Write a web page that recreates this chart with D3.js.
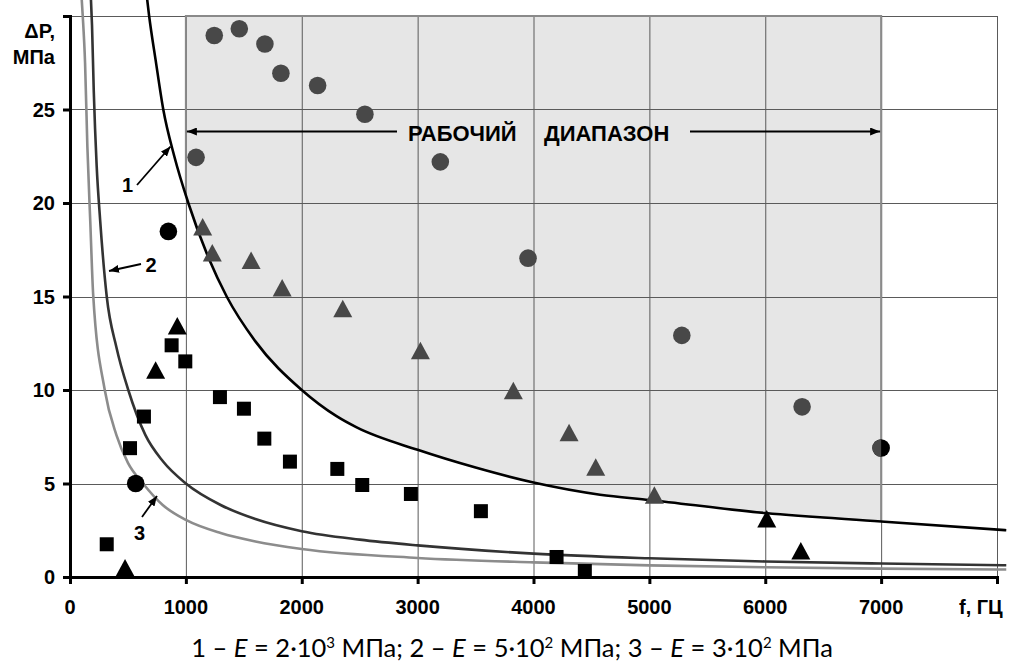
<!DOCTYPE html>
<html>
<head>
<meta charset="utf-8">
<script src="https://cdn.jsdelivr.net/npm/d3@7"></script>
<style>
  body { margin: 0; background: #fff; }
  svg { display: block; }
  .lbl { font-family: "Liberation Sans", Arial, sans-serif; font-weight: bold; font-size: 20px; fill: #000; }
  .cap { font-family: Lato, "Open Sans", sans-serif; fill: #000; }
</style>
</head>
<body>
<svg id="chart" width="1021" height="664"></svg>
<script>
// ---- data ----
const xTicks = [0, 1000, 2000, 3000, 4000, 5000, 6000, 7000];
const yTicks = [0, 5, 10, 15, 20, 25];

// curve 1 (E = 2e3)
const c1F  = [660, 682, 740, 805, 900, 1021, 1200, 1352, 1600, 2000, 2300, 2474, 3000, 3500, 4000, 4574, 5000, 6000, 7000, 8080];
const c1DP = [31.2, 30.05, 27.6, 25, 22.5, 20, 17.0, 15, 12.6, 10.0, 8.6, 8.0, 6.8, 5.85, 5.05, 4.4, 4.12, 3.42, 2.97, 2.5];
// curve 2 (E = 5e2)
const c2F  = [180, 190, 205, 230, 260, 317, 400, 503, 650, 800, 1000, 1300, 1600, 2000, 2500, 3000, 4000, 5000, 6000, 7000, 8080];
const c2DP = [31, 29.5, 26, 22, 19.1, 15, 12.3, 10, 7.6, 6.2, 5.0, 3.85, 3.1, 2.45, 2.0, 1.69, 1.25, 1.0, 0.83, 0.72, 0.63];
// curve 3 (E = 3e2)
const c3F  = [100, 110, 130, 150, 175, 200, 300, 400, 500, 630, 800, 1000, 1300, 1600, 2000, 3000, 4000, 5000, 6000, 7000, 8080];
const c3DP = [31, 30, 27.5, 23, 19, 15.1, 10.0, 7.6, 6.1, 5.0, 3.85, 3.05, 2.35, 1.9, 1.5, 1.02, 0.78, 0.62, 0.52, 0.45, 0.4];

// working range (shaded), lower edge
const rangeF  = [1000, 1021, 1200, 1352, 1600, 2000, 2300, 2474, 3000, 3500, 4000, 4574, 5000, 6000, 7000];
const rangeDP = [20.4, 20, 17.0, 15, 12.6, 10.0, 8.6, 8.0, 6.8, 5.85, 5.05, 4.4, 4.12, 3.42, 2.97];
const rangeTop = 30;

// markers
const sqF  = [317, 518, 638, 877, 995, 1294, 1501, 1677, 1898, 2307, 2522, 2942, 3546, 4199, 4443];
const sqDP = [1.75, 6.89, 8.58, 12.39, 11.53, 9.62, 9.0, 7.40, 6.17, 5.78, 4.92, 4.44, 3.52, 1.07, 0.32];

const triF  = [475, 739, 926, 6013, 6307];
const triDP = [0.48, 11.05, 13.42, 3.1, 1.39];

const gTriF  = [1145, 1228, 1563, 1831, 2354, 3024, 3826, 4307, 4537, 5043];
const gTriDP = [18.71, 17.33, 16.93, 15.46, 14.34, 12.1, 9.96, 7.71, 5.87, 4.37];

const gCirF  = [1088, 1245, 1461, 1682, 1820, 2137, 2545, 3196, 3953, 5280, 6318];
const gCirDP = [22.44, 28.96, 29.32, 28.5, 26.94, 26.28, 24.75, 22.2, 17.05, 12.92, 9.1];

const cirF  = [849, 567, 7000];
const cirDP = [18.48, 5.0, 6.9];

// ---- drawing ----
const svg = d3.select("#chart");
const x = d3.scaleLinear().domain([0, 8000]).range([70, 997]);
const y = d3.scaleLinear().domain([0, 30]).range([577, 16]);
const zip = (a, b) => a.map((v, i) => [v, b[i]]);
const GREY = "#484848";

svg.append("rect").attr("width", 1021).attr("height", 664).attr("fill", "#fff");

// shaded working range
const area = d3.area().x(d => x(d[0])).y0(d => y(d[1])).y1(y(rangeTop)).curve(d3.curveMonotoneX);
svg.append("path").datum(zip(rangeF, rangeDP))
  .attr("d", area).attr("fill", "#e6e6e6");

// grid
const grid = svg.append("g").attr("stroke", "#5a5a5a").attr("stroke-width", 1);
grid.selectAll(".gx").data(d3.range(1000, 8001, 1000)).join("line")
  .attr("x1", d => x(d) + 0.5).attr("x2", d => x(d) + 0.5)
  .attr("y1", y(30)).attr("y2", y(0));
grid.selectAll(".gy").data(d3.range(5, 31, 5)).join("line")
  .attr("y1", d => Math.round(y(d)) + 0.5).attr("y2", d => Math.round(y(d)) + 0.5)
  .attr("x1", x(0)).attr("x2", x(8000));

// range outline
svg.append("path")
  .attr("d", d3.line().x(d => x(d[0])).y(d => y(d[1])).curve(d3.curveMonotoneX)(zip(rangeF, rangeDP)))
  .attr("fill", "none").attr("stroke", "#555").attr("stroke-width", 1);
svg.append("path")
  .attr("d", d3.line().x(d => x(d[0])).y(d => y(d[1]))([[rangeF[0], rangeDP[0]], [rangeF[0], rangeTop], [7000, rangeTop], [7000, rangeDP[rangeDP.length - 1]]]))
  .attr("fill", "none").attr("stroke", "#8a8a8a").attr("stroke-width", 2);

// curves
const line = d3.line().x(d => x(d[0])).y(d => y(d[1])).curve(d3.curveMonotoneX);
[[c3F, c3DP, "#8c8c8c"], [c2F, c2DP, "#333"], [c1F, c1DP, "#000"]].forEach(([f, p, col]) => {
  svg.append("path").datum(zip(f, p)).attr("d", line)
    .attr("fill", "none").attr("stroke", col).attr("stroke-width", 2.6);
});

// markers
const mk = svg.append("g");
mk.selectAll(".sq").data(zip(sqF, sqDP)).join("rect")
  .attr("x", d => x(d[0]) - 7).attr("y", d => y(d[1]) - 7)
  .attr("width", 14).attr("height", 14).attr("fill", "#000");

function triangles(data, col) {
  mk.selectAll(null).data(data).join("path")
    .attr("d", "M0,-9L9.5,8.5L-9.5,8.5Z")
    .attr("transform", d => `translate(${x(d[0])},${y(d[1])})`)
    .attr("fill", col);
}
triangles(zip(triF, triDP), "#000");
triangles(zip(gTriF, gTriDP), GREY);

mk.selectAll(".gc").data(zip(gCirF, gCirDP)).join("circle")
  .attr("cx", d => x(d[0])).attr("cy", d => y(d[1])).attr("r", 8.8).attr("fill", GREY);
mk.selectAll(".bc").data(zip(cirF, cirDP)).join("circle")
  .attr("cx", d => x(d[0])).attr("cy", d => y(d[1])).attr("r", 8.8).attr("fill", "#000");
// the circle sitting on the range edge is greyed on its left half
svg.append("clipPath").attr("id", "inrange").append("rect")
  .attr("x", x(1000)).attr("y", y(30)).attr("width", x(7000) - x(1000)).attr("height", y(0) - y(30));
mk.selectAll(".bcg").data(zip(cirF, cirDP).filter(d => d[0] >= 1000)).join("circle")
  .attr("clip-path", "url(#inrange)")
  .attr("cx", d => x(d[0])).attr("cy", d => y(d[1])).attr("r", 8.8).attr("fill", GREY);

// axes
const xAxis = svg.append("g").attr("transform", `translate(0,${y(0)})`)
  .call(d3.axisBottom(x).tickValues(d3.range(0, 8001, 1000)).tickSize(7).tickFormat(""));
const yAxis = svg.append("g").attr("transform", `translate(${x(0)},0)`)
  .call(d3.axisLeft(y).tickValues(d3.range(0, 31, 5)).tickSize(7).tickFormat(""));
[xAxis, yAxis].forEach(a => {
  a.select(".domain").attr("stroke", "#000").attr("stroke-width", 3);
  a.selectAll(".tick line").attr("stroke", "#000").attr("stroke-width", 3);
});

svg.selectAll(".xl").data(xTicks).join("text").attr("class", "lbl")
  .attr("x", d => x(d)).attr("y", 614).attr("text-anchor", "middle").text(d => d);
svg.selectAll(".yl").data(yTicks).join("text").attr("class", "lbl")
  .attr("x", 55).attr("y", d => y(d)).attr("dy", "0.36em").attr("text-anchor", "end").text(d => d);

svg.append("text").attr("class", "lbl").attr("x", 55).attr("y", 38).attr("text-anchor", "end").text("ΔP,");
svg.append("text").attr("class", "lbl").attr("x", 55).attr("y", 64).attr("text-anchor", "end").text("МПа");
svg.append("text").attr("class", "lbl").attr("x", 959).attr("y", 614).text("f, ГЦ");

// arrows
const defs = svg.append("defs");
defs.append("marker").attr("id", "ah").attr("viewBox", "0 0 10 8")
  .attr("refX", 10).attr("refY", 4).attr("markerWidth", 10).attr("markerHeight", 8)
  .attr("markerUnits", "userSpaceOnUse").attr("orient", "auto")
  .append("path").attr("d", "M0,0L10,4L0,8Z").attr("fill", "#000");
function arrow(x1, y1, x2, y2, w) {
  svg.append("line").attr("x1", x1).attr("y1", y1).attr("x2", x2).attr("y2", y2)
    .attr("stroke", "#000").attr("stroke-width", w).attr("marker-end", "url(#ah)");
}
arrow(397, 131.5, x(1000) + 1, 131.5, 2.2);
arrow(690, 131.5, x(7000) - 1, 131.5, 2.2);
svg.append("text").attr("class", "lbl").attr("x", 408).attr("y", 140.5).style("font-size", "22px").text("РАБОЧИЙ");
svg.append("text").attr("class", "lbl").attr("x", 544).attr("y", 140.5).style("font-size", "22px").text("ДИАПАЗОН");

arrow(137, 185, 170.5, 146.5, 1.8);
svg.append("text").attr("class", "lbl").attr("x", 122).attr("y", 192).text("1");
arrow(141, 264, 109, 271, 1.8);
svg.append("text").attr("class", "lbl").attr("x", 145.5).attr("y", 272).text("2");
arrow(142, 517, 157, 496, 1.8);
svg.append("text").attr("class", "lbl").attr("x", 134).attr("y", 540).text("3");

// caption
const cap = svg.append("text").attr("class", "cap").attr("x", 512).attr("y", 657)
  .attr("text-anchor", "middle").style("font-size", "22px");
[["1", "2·10", "3"], ["2", "5·10", "2"], ["3", "3·10", "2"]].forEach((p, i) => {
  cap.append("tspan").text((i ? "; " : "") + p[0] + " – ");
  cap.append("tspan").style("font-style", "italic").text("E");
  cap.append("tspan").text(" = " + p[1]);
  cap.append("tspan").attr("dy", -9).style("font-size", "15px").text(p[2]);
  cap.append("tspan").attr("dy", 9).text(" МПа");
});
const w = cap.node().getComputedTextLength();
cap.style("font-size", (22 * 646 / w).toFixed(2) + "px");
</script>
</body>
</html>
